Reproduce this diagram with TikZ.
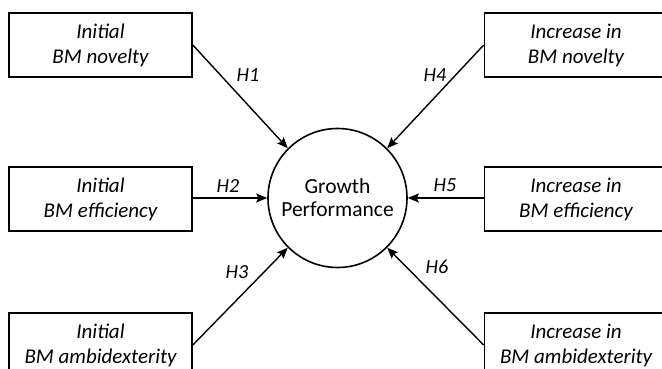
\documentclass[tikz,border=0pt]{standalone}
\usepackage{fontspec}
\setmainfont{Carlito}
\usetikzlibrary{arrows.meta}

\tikzset{
	construct/.style = {draw, line width = 1.6pt, minimum width = 183pt, minimum height = 64pt,
		inner sep = 0pt, align = center, font = \fontsize{21}{25}\selectfont\itshape},
	outcome/.style = {draw, circle, line width = 1.6pt, minimum size = 139pt, inner sep = 0pt,
		align = center, font = \fontsize{21.5}{23}\selectfont},
	hyp/.style = {line width = 1.4pt, -{Stealth[length = 11pt, width = 9pt, inset = 2pt]}},
	hlabel/.style = {font = \fontsize{20}{22}\selectfont\itshape}
}

\begin{document}
\begin{tikzpicture}[x = 1pt, y = -1pt]
	\useasboundingbox (0,0) rectangle (662,369);
	\clip (0,0) rectangle (662,369);

	% dependent construct
	\node[outcome] (growth) at (337.5,198) {Growth\\Performance};

	% initial business model
	\node[construct] (initnov) at (100.5,45) {Initial\\BM novelty};
	\node[construct] (initeff) at (100.5,199) {Initial\\BM efficiency};
	\node[construct] (initamb) at (100.5,345) {Initial\\BM ambidexterity};

	% change in business model
	\node[construct] (incnov) at (576,45) {Increase in\\BM novelty};
	\node[construct] (inceff) at (576,199) {Increase in\\BM efficiency};
	\node[construct] (incamb) at (576,345) {Increase in\\BM ambidexterity};

	\draw[hyp] (initnov.east) -- (growth.135);
	\draw[hyp] (initeff.east |- growth.west) -- (growth.west);
	\draw[hyp] (initamb.east) -- (growth.225);
	\draw[hyp] (incnov.west) -- (growth.45);
	\draw[hyp] (inceff.west |- growth.east) -- (growth.east);
	\draw[hyp] (incamb.west) -- (growth.315);

	\node[hlabel] (h1) at (248,75) {H1};
	\node[hlabel] (h2) at (228,186) {H2};
	\node[hlabel] (h3) at (237,272) {H3};
	\node[hlabel] (h4) at (435,75) {H4};
	\node[hlabel] (h5) at (445,185) {H5};
	\node[hlabel] (h6) at (437,267) {H6};

\end{tikzpicture}
\end{document}
